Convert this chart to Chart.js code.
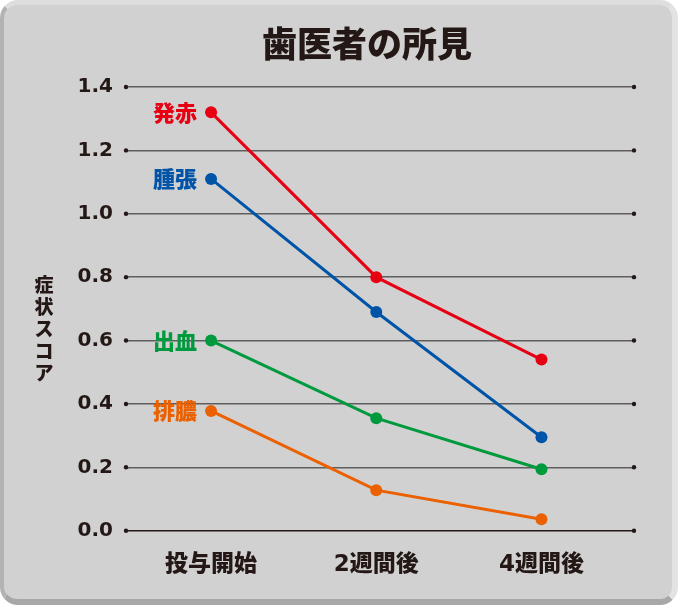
<!DOCTYPE html>
<html>
<head>
<meta charset="utf-8">
<script src="https://cdn.jsdelivr.net/npm/chart.js@4.4.1/dist/chart.umd.min.js"></script>
<style>
  html, body { margin: 0; padding: 0; background: #ffffff; }
  #wrap { position: relative; width: 678px; height: 605px; }
  #panel {
    position: absolute; left: 0; top: 0; width: 678px; height: 605px;
    box-sizing: border-box; border-radius: 18px;
    background: #d1d1d1;
    border-top: 5px solid #dedede;
    border-right: 6px solid #e3e3e3;
    border-left: 4px solid #b3b3b3;
    border-bottom: 6px solid #a8a8a8;
  }
  canvas { position: absolute; left: 0; top: 0; }
</style>
</head>
<body>
<div id="wrap">
  <div id="panel"></div>
  <canvas id="c" width="678" height="605"></canvas>
</div>
<script>
const title = '歯医者の所見';
const yTitle = '症状スコア';
const categories = ['投与開始', '2週間後', '4週間後'];
const seriesNames = ['発赤', '腫張', '出血', '排膿'];
const seriesColors = ['#e60012', '#0054a7', '#009a3e', '#eb6100'];
const redness = [1.32, 0.80, 0.54];
const swelling = [1.11, 0.69, 0.295];
const bleeding = [0.60, 0.355, 0.194];
const pus = [0.378, 0.128, 0.036];
const yTicks = [0, 0.2, 0.4, 0.6, 0.8, 1.0, 1.2, 1.4];

const seriesValues = [redness, swelling, bleeding, pus];
const INK = '#231815';
const JP = '"Noto Sans CJK JP", "Noto Sans", sans-serif';

const datasets = seriesNames.map((name, i) => ({
  label: name,
  data: seriesValues[i].map((v, j) => ({ x: j, y: v })),
  borderColor: seriesColors[i],
  backgroundColor: seriesColors[i],
  borderWidth: 3,
  pointRadius: 6,
  pointHoverRadius: 6,
  pointBorderWidth: 0,
  tension: 0
}));

const decorPlugin = {
  id: 'decor',
  beforeDatasetsDraw(chart) {
    const ctx = chart.ctx, ca = chart.chartArea, ys = chart.scales.y;
    ctx.save();
    ctx.fillStyle = INK;
    yTicks.forEach(t => {
      const py = ys.getPixelForValue(t);
      [ca.left, ca.right].forEach(px => {
        ctx.beginPath(); ctx.arc(px, py, 2.2, 0, Math.PI * 2); ctx.fill();
      });
    });
    ctx.restore();
  },
  afterDraw(chart) {
    const ctx = chart.ctx;
    ctx.save();
    // title
    ctx.fillStyle = INK;
    ctx.font = '900 35px ' + JP;
    ctx.textAlign = 'center';
    ctx.textBaseline = 'middle';
    ctx.fillText(title, 367, 44);
    // vertical y-axis title
    ctx.font = '900 19px ' + JP;
    const chars = Array.from(yTitle);
    const step = 22;
    const cy = 328.5;
    chars.forEach((ch, k) => {
      ctx.fillText(ch, 44, cy + (k - (chars.length - 1) / 2) * step);
    });
    // series labels
    ctx.font = '900 22px ' + JP;
    ctx.textAlign = 'right';
    chart.data.datasets.forEach((ds, i) => {
      const pt = chart.getDatasetMeta(i).data[0];
      ctx.fillStyle = ds.borderColor;
      ctx.fillText(ds.label, pt.x - 14, pt.y);
    });
    ctx.restore();
  }
};

new Chart(document.getElementById('c'), {
  type: 'line',
  data: { datasets },
  options: {
    responsive: false,
    animation: false,
    events: [],
    layout: { padding: { top: 87, right: 44, left: 0, bottom: 0 } },
    plugins: { legend: { display: false }, title: { display: false }, tooltip: { enabled: false } },
    scales: {
      x: {
        type: 'linear',
        min: -0.515,
        max: 2.56,
        afterBuildTicks(scale) { scale.ticks = categories.map((c, i) => ({ value: i })); },
        afterFit(scale) { scale.height = 74.3; },
        grid: { display: false, drawTicks: false },
        border: { display: false },
        ticks: {
          padding: 21,
          color: INK,
          font: { family: '"DejaVu Sans", "Noto Sans CJK JP", sans-serif', size: 23, weight: '900' },
          callback: (v) => categories[v] ?? ''
        }
      },
      y: {
        min: 0,
        max: 1.4,
        afterBuildTicks(scale) { scale.ticks = yTicks.map(v => ({ value: v })); },
        afterFit(scale) { scale.width = 126; },
        grid: {
          drawTicks: false,
          lineWidth: 1.4,
          color: (ctx) => (ctx.tick && ctx.tick.value === 0) ? INK : '#5e5e5e'
        },
        border: { display: false },
        ticks: {
          padding: 13,
          color: INK,
          font: { family: '"DejaVu Sans", sans-serif', size: 20, weight: 'bold' },
          callback: (v) => Number(v).toFixed(1)
        }
      }
    }
  },
  plugins: [decorPlugin]
});
</script>
</body>
</html>
